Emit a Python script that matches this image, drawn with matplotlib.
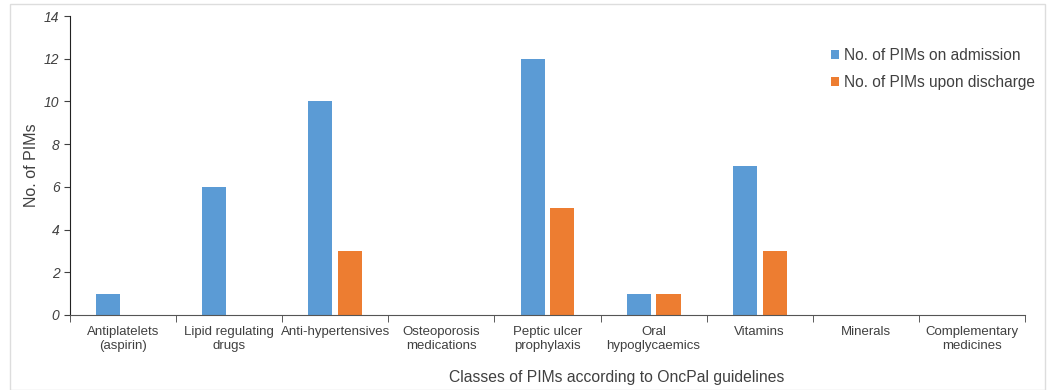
import numpy as np
import matplotlib
matplotlib.use('Agg')
import matplotlib.pyplot as plt
from matplotlib.patches import Rectangle

categories = ['Antiplatelets\n(aspirin)', 'Lipid regulating\ndrugs', 'Anti-hypertensives',
              'Osteoporosis\nmedications', 'Peptic ulcer\nprophylaxis', 'Oral\nhypoglycaemics',
              'Vitamins', 'Minerals', 'Complementary\nmedicines']
admission = [1, 6, 10, 0, 12, 1, 7, 0, 0]
discharge = [0, 0, 3, 0, 5, 1, 3, 0, 0]

plt.rcParams['font.family'] = ['Liberation Sans', 'DejaVu Sans']

fig = plt.figure(figsize=(10.53, 3.9), dpi=100)
ax = fig.add_axes([70/1053, 75/390, 955/1053, 299/390])

x = np.arange(len(categories))
w = 0.227
ax.bar(x - 0.14, admission, w, color='#5B9BD5', label='No. of PIMs on admission')
ax.bar(x + 0.14, discharge, w, color='#ED7D31', label='No. of PIMs upon discharge')

ax.set_xlim(-0.5, len(categories) - 0.5)
ax.set_ylim(0, 14)
ax.set_yticks(range(0, 15, 2))
ax.set_yticklabels([str(v) for v in range(0, 15, 2)], fontstyle='italic', fontsize=10, color='#404040')

# category labels centred, tick marks on boundaries
ax.set_xticks(x)
ax.set_xticklabels(categories, fontsize=9.5, color='#404040')
ax.tick_params(axis='x', length=0, pad=8)
ax.set_xticks(np.arange(-0.5, len(categories), 1), minor=True)
ax.tick_params(axis='x', which='minor', length=5, direction='out', color='#404040')
ax.tick_params(axis='y', length=4, direction='out', color='#404040')

for s in ['top', 'right']:
    ax.spines[s].set_visible(False)
ax.spines['left'].set_color('#222222')
ax.spines['bottom'].set_color('#555555')

ax.set_ylabel('No. of PIMs', fontsize=11.5, color='#404040', labelpad=4)
fig.text(617/1053, 5/390, 'Classes of PIMs according to OncPal guidelines',
         ha='center', va='bottom', fontsize=11.3, color='#404040')

ax.legend(loc='upper right', bbox_to_anchor=(1.025, 0.94), frameon=False, fontsize=11.2,
          handlelength=0.5, handleheight=0.5, handletextpad=0.3, labelspacing=0.8,
          labelcolor='#404040')

fig.patches.append(Rectangle((10/1053, 0), 1035/1053, 386/390, transform=fig.transFigure,
                             fill=False, edgecolor='#dddddd', linewidth=1))

fig.savefig('out.png', dpi=100)
